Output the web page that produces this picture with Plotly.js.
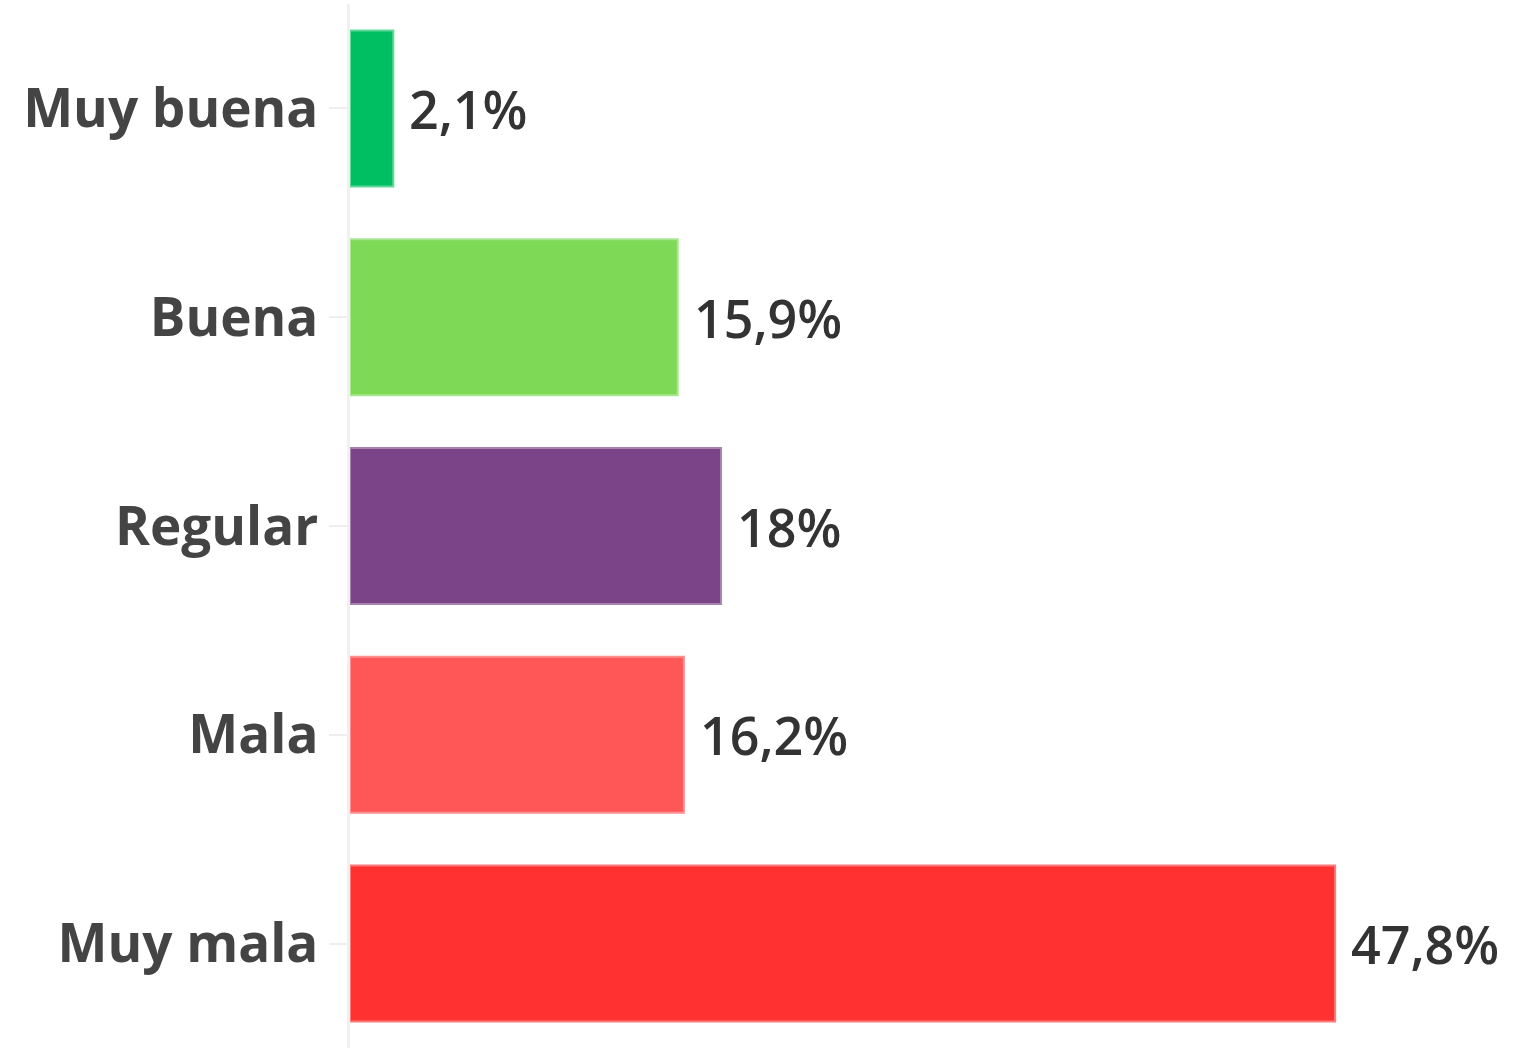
<!DOCTYPE html>
<html>
<head>
<meta charset="utf-8">
<script src="https://cdn.plot.ly/plotly-3.0.1.min.js"></script>
<style>html,body{margin:0;padding:0;background:#fff;}#chart{width:1519px;height:1048px;}</style>
</head>
<body>
<div id="chart"></div>
<script>
const categories = ["Muy buena", "Buena", "Regular", "Mala", "Muy mala"];
const values = [2.1, 15.9, 18, 16.2, 47.8];
const colors = ["#00BF63", "#7ED957", "#7B4488", "#FF5757", "#FF3131"];
const borderColors = ["#5FD89A", "#A8E68F", "#A583AE", "#FF8E8E", "#FF7A7A"];

const labels = values.map(v => String(v).replace('.', ',') + '%');

const FONT = "'Open Sans', sans-serif";

const trace = {
  type: 'bar',
  orientation: 'h',
  y: categories,
  x: values,
  marker: { color: colors, line: { color: borderColors, width: 2 } },
  hoverinfo: 'none'
};

const annotations = categories.map((c, i) => ({
  x: values[i], y: c, xref: 'x', yref: 'y',
  text: labels[i], showarrow: false, xanchor: 'left', yanchor: 'middle',
  xshift: 14,
  font: { family: FONT, size: 52, color: '#333333', weight: 600 }
}));

const layout = {
  width: 1519, height: 1048,
  margin: { l: 350, r: 19, t: 4, b: 0 },
  paper_bgcolor: '#ffffff', plot_bgcolor: '#ffffff',
  bargap: 0.253,
  showlegend: false,
  xaxis: { range: [0, 55.8], visible: false, fixedrange: true },
  yaxis: {
    type: 'category', autorange: 'reversed',
    showline: true, linecolor: '#f0f0f0', linewidth: 3,
    ticks: 'outside', ticklen: 18, tickwidth: 2, tickcolor: '#eeeeee',
    ticklabelstandoff: 0,
    showgrid: false, zeroline: false,
    tickfont: { family: FONT, size: 53, color: '#444444', weight: 700 }
  },
  annotations: annotations
};

Plotly.newPlot('chart', [trace], layout, { staticPlot: true, displayModeBar: false });
</script>
</body>
</html>
